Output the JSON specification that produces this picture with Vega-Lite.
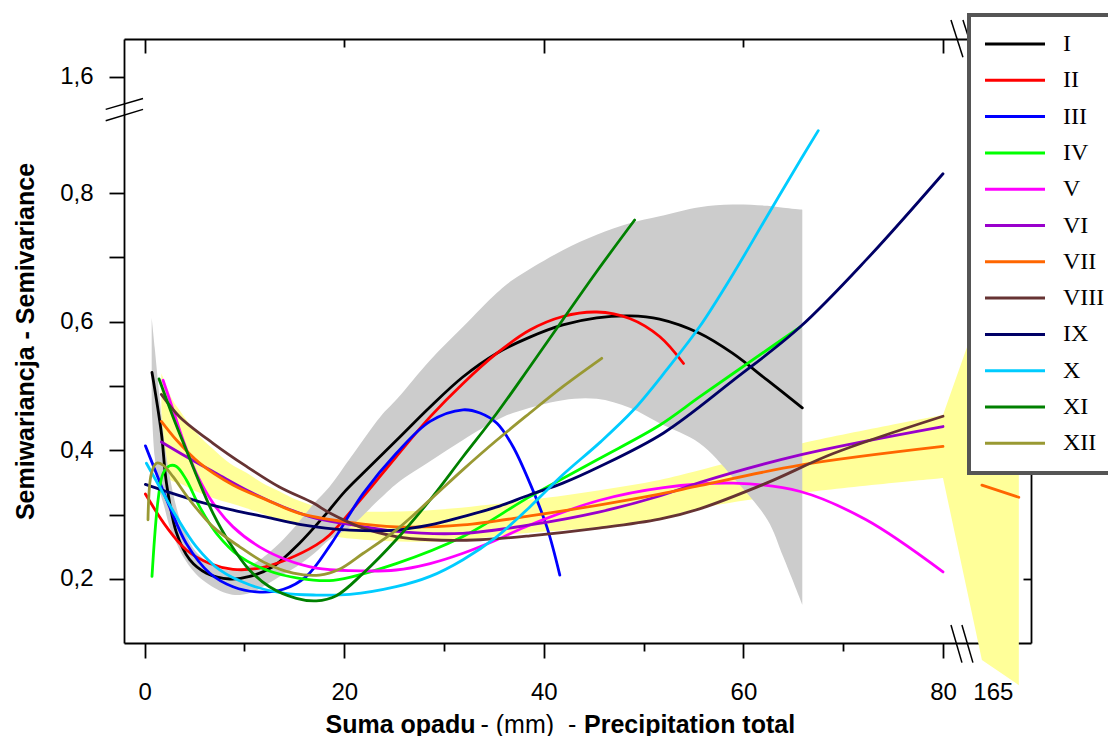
{
"$schema": "https://vega.github.io/schema/vega-lite/v6.json",
"width": 907, "height": 604,
"autosize": {"type": "none"},
"padding": {"left": 124, "top": 39, "right": 77, "bottom": 93},
"background": "white",
"config": {
  "view": {"stroke": null},
  "font": "Liberation Sans",
  "axis": {"grid": false, "domainColor": "#000", "tickColor": "#000", "labelColor": "#000", "titleColor": "#000", "domainWidth": 1.8, "tickWidth": 1.8, "zindex": 1, "labelFont": "Liberation Sans", "titleFont": "Liberation Sans", "labelFontSize": 24, "titleFontSize": 25, "labelOverlap": false, "labelFlush": false, "labelBound": false}
},
"datasets": {
  "yellow": [
    {"x":1.67,"lo":0.364,"hi":0.520},{"x":2.81,"lo":0.352,"hi":0.478},{"x":3.51,"lo":0.349,"hi":0.462},{"x":5.18,"lo":0.336,"hi":0.427},{"x":6.85,"lo":0.326,"hi":0.402},{"x":8.52,"lo":0.318,"hi":0.380},{"x":10.2,"lo":0.310,"hi":0.365},{"x":11.83,"lo":0.301,"hi":0.349},{"x":13.53,"lo":0.292,"hi":0.336},{"x":15.2,"lo":0.283,"hi":0.323},{"x":16.84,"lo":0.274,"hi":0.314},{"x":18.5,"lo":0.268,"hi":0.307},{"x":20.55,"lo":0.263,"hi":0.305},{"x":28.6,"lo":0.258,"hi":0.307},{"x":38.6,"lo":0.272,"hi":0.323},{"x":45.6,"lo":0.281,"hi":0.338},{"x":51.6,"lo":0.294,"hi":0.354},{"x":55.6,"lo":0.310,"hi":0.369},{"x":65.9,"lo":0.334,"hi":0.411},{"x":80,"lo":0.357,"hi":0.455}
  ],
  "yellowbreak": [
    {"x":80,"lo":0.357,"hi":0.455},{"x":83.9,"lo":0.074,"hi":0.626},{"x":87.6,"lo":0.035,"hi":0.789}
  ],
  "gray": [
    {"x":0.7,"lo":0.47,"hi":0.606},{"x":1.0,"lo":0.39,"hi":0.56},{"x":1.5,"lo":0.338,"hi":0.48},{"x":2.0,"lo":0.31,"hi":0.41},{"x":2.5,"lo":0.281,"hi":0.36},{"x":3.2,"lo":0.255,"hi":0.31},{"x":3.84,"lo":0.235,"hi":0.28},{"x":5.0,"lo":0.21,"hi":0.245},{"x":5.84,"lo":0.198,"hi":0.232},{"x":7.0,"lo":0.186,"hi":0.220},{"x":8.19,"lo":0.178,"hi":0.214},{"x":9.52,"lo":0.175,"hi":0.215},{"x":11.0,"lo":0.181,"hi":0.225},{"x":11.83,"lo":0.188,"hi":0.233},{"x":13.53,"lo":0.204,"hi":0.256},{"x":15.2,"lo":0.219,"hi":0.284},{"x":17,"lo":0.240,"hi":0.318},{"x":18.5,"lo":0.261,"hi":0.343},{"x":20.6,"lo":0.281,"hi":0.388},{"x":23.6,"lo":0.325,"hi":0.452},{"x":25.3,"lo":0.349,"hi":0.48},{"x":28.6,"lo":0.383,"hi":0.540},{"x":31.9,"lo":0.416,"hi":0.592},{"x":35.3,"lo":0.447,"hi":0.645},{"x":36.9,"lo":0.458,"hi":0.665},{"x":41.9,"lo":0.478,"hi":0.711},{"x":45.3,"lo":0.480,"hi":0.735},{"x":48.6,"lo":0.466,"hi":0.753},{"x":51.6,"lo":0.442,"hi":0.764},{"x":55.6,"lo":0.411,"hi":0.778},{"x":58.9,"lo":0.359,"hi":0.782},{"x":62.4,"lo":0.292,"hi":0.780},{"x":64.0,"lo":0.234,"hi":0.777},{"x":65.9,"lo":0.160,"hi":0.774}
  ],
  "breaks": [
    {"x":-3.91,"y":0.930,"x2":-0.17,"y2":0.947},{"x":-3.91,"y":0.9124,"x2":-0.17,"y2":0.930},
    {"x":80.8,"y":0.1285,"x2":81.9,"y2":0.070},{"x":81.9,"y":0.1285,"x2":83.0,"y2":0.070},
    {"x":80.8,"y":1.069,"x2":82.0,"y2":1.011},{"x":82.0,"y":1.069,"x2":83.2,"y2":1.011}
  ],
  "curves": [
    {"s":"I","x":0.73,"y":0.521},{"s":"I","x":1.67,"y":0.427},{"s":"I","x":2.18,"y":0.349},{"s":"I","x":3.18,"y":0.272},{"s":"I","x":4.51,"y":0.230},{"s":"I","x":6.19,"y":0.209},{"s":"I","x":8.52,"y":0.200},{"s":"I","x":10.53,"y":0.204},{"s":"I","x":12.83,"y":0.219},{"s":"I","x":15.54,"y":0.256},{"s":"I","x":18.22,"y":0.302},{"s":"I","x":20,"y":0.335},{"s":"I","x":21.85,"y":0.364},{"s":"I","x":25.26,"y":0.416},{"s":"I","x":28.57,"y":0.467},{"s":"I","x":31.88,"y":0.514},{"s":"I","x":35.29,"y":0.551},{"s":"I","x":38.6,"y":0.576},{"s":"I","x":41.9,"y":0.595},{"s":"I","x":45.3,"y":0.606},{"s":"I","x":48.6,"y":0.609},{"s":"I","x":51.6,"y":0.604},{"s":"I","x":55.6,"y":0.582},{"s":"I","x":58.9,"y":0.551},{"s":"I","x":62.4,"y":0.509},{"s":"I","x":65.9,"y":0.466},
    {"s":"II","x":0.07,"y":0.332},{"s":"II","x":2.18,"y":0.281},{"s":"II","x":4.18,"y":0.245},{"s":"II","x":6.52,"y":0.224},{"s":"II","x":8.85,"y":0.215},{"s":"II","x":11.5,"y":0.217},{"s":"II","x":14.2,"y":0.230},{"s":"II","x":17.2,"y":0.253},{"s":"II","x":18.5,"y":0.268},{"s":"II","x":21.9,"y":0.328},{"s":"II","x":25.2,"y":0.390},{"s":"II","x":28.6,"y":0.452},{"s":"II","x":31.9,"y":0.504},{"s":"II","x":35.3,"y":0.551},{"s":"II","x":38.6,"y":0.587},{"s":"II","x":41.9,"y":0.608},{"s":"II","x":45.3,"y":0.615},{"s":"II","x":48.6,"y":0.605},{"s":"II","x":51.6,"y":0.577},{"s":"II","x":54.0,"y":0.535},
    {"s":"III","x":0.07,"y":0.407},{"s":"III","x":1.17,"y":0.364},{"s":"III","x":2.5,"y":0.312},{"s":"III","x":4.18,"y":0.255},{"s":"III","x":6.52,"y":0.209},{"s":"III","x":8.85,"y":0.188},{"s":"III","x":11.2,"y":0.180},{"s":"III","x":13.9,"y":0.184},{"s":"III","x":16.2,"y":0.204},{"s":"III","x":18.7,"y":0.255},{"s":"III","x":21.9,"y":0.333},{"s":"III","x":25.2,"y":0.395},{"s":"III","x":28.6,"y":0.445},{"s":"III","x":31.9,"y":0.463},{"s":"III","x":33.6,"y":0.458},{"s":"III","x":35.3,"y":0.442},{"s":"III","x":36.9,"y":0.406},{"s":"III","x":38.6,"y":0.349},{"s":"III","x":40.3,"y":0.281},{"s":"III","x":41.6,"y":0.206},
    {"s":"IV","x":0.73,"y":0.204},{"s":"IV","x":1.34,"y":0.323},{"s":"IV","x":1.84,"y":0.364},{"s":"IV","x":2.5,"y":0.376},{"s":"IV","x":3.18,"y":0.375},{"s":"IV","x":4.18,"y":0.354},{"s":"IV","x":5.51,"y":0.312},{"s":"IV","x":7.19,"y":0.271},{"s":"IV","x":9.52,"y":0.235},{"s":"IV","x":12.2,"y":0.214},{"s":"IV","x":15.5,"y":0.201},{"s":"IV","x":18.9,"y":0.198},{"s":"IV","x":25.2,"y":0.224},{"s":"IV","x":31.9,"y":0.266},{"s":"IV","x":38.6,"y":0.328},{"s":"IV","x":45.3,"y":0.385},{"s":"IV","x":51.6,"y":0.439},{"s":"IV","x":55.6,"y":0.483},{"s":"IV","x":60.6,"y":0.537},{"s":"IV","x":65.7,"y":0.592},
    {"s":"V","x":1.84,"y":0.509},{"s":"V","x":2.84,"y":0.463},{"s":"V","x":3.84,"y":0.416},{"s":"V","x":5.18,"y":0.364},{"s":"V","x":6.85,"y":0.318},{"s":"V","x":8.85,"y":0.281},{"s":"V","x":11.5,"y":0.250},{"s":"V","x":14.2,"y":0.230},{"s":"V","x":17.2,"y":0.217},{"s":"V","x":20.55,"y":0.213},{"s":"V","x":25.2,"y":0.214},{"s":"V","x":28.6,"y":0.224},{"s":"V","x":31.9,"y":0.240},{"s":"V","x":35.3,"y":0.261},{"s":"V","x":38.6,"y":0.284},{"s":"V","x":45.5,"y":0.322},{"s":"V","x":52,"y":0.342},{"s":"V","x":59,"y":0.349},{"s":"V","x":65.7,"y":0.336},{"s":"V","x":72.3,"y":0.292},{"s":"V","x":80,"y":0.211},
    {"s":"VI","x":1.67,"y":0.413},{"s":"VI","x":4.18,"y":0.390},{"s":"VI","x":7.19,"y":0.364},{"s":"VI","x":10.5,"y":0.336},{"s":"VI","x":13.9,"y":0.312},{"s":"VI","x":17.2,"y":0.294},{"s":"VI","x":20.5,"y":0.285},{"s":"VI","x":25.2,"y":0.274},{"s":"VI","x":31.9,"y":0.271},{"s":"VI","x":38.6,"y":0.284},{"s":"VI","x":45.5,"y":0.304},{"s":"VI","x":51.6,"y":0.329},{"s":"VI","x":55.6,"y":0.350},{"s":"VI","x":65.7,"y":0.393},{"s":"VI","x":80,"y":0.437},
    {"s":"VII","x":1.67,"y":0.445},{"s":"VII","x":3.18,"y":0.416},{"s":"VII","x":5.51,"y":0.380},{"s":"VII","x":8.85,"y":0.346},{"s":"VII","x":12.2,"y":0.323},{"s":"VII","x":15.5,"y":0.302},{"s":"VII","x":20.55,"y":0.288},{"s":"VII","x":25.2,"y":0.281},{"s":"VII","x":31.9,"y":0.284},{"s":"VII","x":38.6,"y":0.298},{"s":"VII","x":45.5,"y":0.315},{"s":"VII","x":51.6,"y":0.332},{"s":"VII","x":55.6,"y":0.345},{"s":"VII","x":65.7,"y":0.377},{"s":"VII","x":80,"y":0.406},
    {"s":"VII","seg":"b","x":83.9,"y":0.346},{"s":"VII","seg":"b","x":87.6,"y":0.327},
    {"s":"VIII","x":1.67,"y":0.487},{"s":"VIII","x":3.51,"y":0.452},{"s":"VIII","x":6.85,"y":0.411},{"s":"VIII","x":10.2,"y":0.375},{"s":"VIII","x":13.5,"y":0.343},{"s":"VIII","x":16.9,"y":0.318},{"s":"VIII","x":18.5,"y":0.303},{"s":"VIII","x":21.9,"y":0.279},{"s":"VIII","x":25.2,"y":0.266},{"s":"VIII","x":28.6,"y":0.261},{"s":"VIII","x":33.6,"y":0.261},{"s":"VIII","x":38.6,"y":0.267},{"s":"VIII","x":45.5,"y":0.279},{"s":"VIII","x":51.6,"y":0.293},{"s":"VIII","x":55.6,"y":0.309},{"s":"VIII","x":62.3,"y":0.349},{"s":"VIII","x":69,"y":0.395},{"s":"VIII","x":80,"y":0.453},
    {"s":"IX","x":0.07,"y":0.347},{"s":"IX","x":2.18,"y":0.336},{"s":"IX","x":5.51,"y":0.320},{"s":"IX","x":8.85,"y":0.307},{"s":"IX","x":12.2,"y":0.296},{"s":"IX","x":15.5,"y":0.285},{"s":"IX","x":20.55,"y":0.276},{"s":"IX","x":25.2,"y":0.276},{"s":"IX","x":28.6,"y":0.284},{"s":"IX","x":31.9,"y":0.297},{"s":"IX","x":35.3,"y":0.312},{"s":"IX","x":38.6,"y":0.331},{"s":"IX","x":41.9,"y":0.349},{"s":"IX","x":45.5,"y":0.374},{"s":"IX","x":52,"y":0.427},{"s":"IX","x":59,"y":0.509},{"s":"IX","x":65.7,"y":0.592},{"s":"IX","x":72.3,"y":0.696},{"s":"IX","x":80,"y":0.830},
    {"s":"X","x":0.17,"y":0.380},{"s":"X","x":1.5,"y":0.343},{"s":"X","x":3.18,"y":0.297},{"s":"X","x":5.18,"y":0.250},{"s":"X","x":7.52,"y":0.214},{"s":"X","x":10.5,"y":0.191},{"s":"X","x":13.9,"y":0.178},{"s":"X","x":17.2,"y":0.175},{"s":"X","x":20.55,"y":0.176},{"s":"X","x":25.2,"y":0.188},{"s":"X","x":28.6,"y":0.204},{"s":"X","x":31.9,"y":0.230},{"s":"X","x":35.3,"y":0.266},{"s":"X","x":38.6,"y":0.312},{"s":"X","x":41.9,"y":0.362},{"s":"X","x":45.6,"y":0.412},{"s":"X","x":49,"y":0.463},{"s":"X","x":52.3,"y":0.525},{"s":"X","x":55.6,"y":0.592},{"s":"X","x":59,"y":0.675},{"s":"X","x":62.3,"y":0.762},{"s":"X","x":65.7,"y":0.851},{"s":"X","x":67.5,"y":0.897},
    {"s":"XI","x":1.44,"y":0.511},{"s":"XI","x":2.84,"y":0.452},{"s":"XI","x":4.18,"y":0.400},{"s":"XI","x":5.51,"y":0.349},{"s":"XI","x":6.85,"y":0.302},{"s":"XI","x":8.52,"y":0.256},{"s":"XI","x":10.5,"y":0.214},{"s":"XI","x":12.5,"y":0.188},{"s":"XI","x":15.2,"y":0.170},{"s":"XI","x":17.2,"y":0.166},{"s":"XI","x":19.2,"y":0.174},{"s":"XI","x":21.9,"y":0.209},{"s":"XI","x":25.2,"y":0.261},{"s":"XI","x":28.6,"y":0.323},{"s":"XI","x":31.9,"y":0.390},{"s":"XI","x":35.3,"y":0.458},{"s":"XI","x":38.6,"y":0.530},{"s":"XI","x":41.9,"y":0.603},{"s":"XI","x":45.3,"y":0.678},{"s":"XI","x":49.1,"y":0.758},
    {"s":"XII","x":0.33,"y":0.292},{"s":"XII","x":0.67,"y":0.364},{"s":"XII","x":1.17,"y":0.380},{"s":"XII","x":1.84,"y":0.377},{"s":"XII","x":2.84,"y":0.359},{"s":"XII","x":4.51,"y":0.323},{"s":"XII","x":6.85,"y":0.281},{"s":"XII","x":9.52,"y":0.250},{"s":"XII","x":12.2,"y":0.224},{"s":"XII","x":14.9,"y":0.209},{"s":"XII","x":17.5,"y":0.206},{"s":"XII","x":19.5,"y":0.215},{"s":"XII","x":21.9,"y":0.240},{"s":"XII","x":25.2,"y":0.276},{"s":"XII","x":28.6,"y":0.323},{"s":"XII","x":31.9,"y":0.370},{"s":"XII","x":35.3,"y":0.416},{"s":"XII","x":38.6,"y":0.458},{"s":"XII","x":41.9,"y":0.499},{"s":"XII","x":45.8,"y":0.543}
  ]
},
"encoding": {
  "x": {"field": "x", "type": "quantitative", "scale": {"domain": [-2.075, 88.82], "nice": false, "zero": false}, "axis": null},
  "y": {"field": "y", "type": "quantitative", "scale": {"domain": [0.1005, 1.0394], "nice": false, "zero": false}, "axis": null}
},
"layer": [
  {
    "data": {"name": "yellow"},
    "mark": {"type": "area", "color": "#FFFF99", "interpolate": "catmull-rom"},
    "encoding": {
      "x": {"field": "x", "type": "quantitative", "scale": {"domain": [-2.075, 88.82], "nice": false, "zero": false},
        "axis": {"orient": "bottom", "values": [0, 20, 40, 60, 80, 85], "tickSize": 15, "labelPadding": 22, "labelExpr": "datum.value == 85 ? '165' : datum.label", "title": "Suma opadu", "titleFontWeight": "bold", "titleX": 201, "titleY": 89, "titleAlign": "left", "titleBaseline": "alphabetic", "titleAnchor": "start"}},
      "y": {"field": "lo", "type": "quantitative", "scale": {"domain": [0.1005, 1.0394], "nice": false, "zero": false},
        "axis": {"orient": "left", "values": [0.1, 0.2, 0.3, 0.4, 0.5, 0.6, 0.7, 0.8, 0.981], "tickSize": 15, "labelPadding": 16, "labelExpr": "datum.value > 0.9 ? '1,6' : (round(datum.value*10) % 2 == 0 && datum.value > 0.15 ? replace(format(datum.value, '.1f'), '.', ',') : '')", "title": "Semiwariancja - Semivariance", "titleFontWeight": "bold", "titleX": -91, "titleY": 302, "titleAngle": 270, "titleAlign": "center", "titleBaseline": "alphabetic"}},
      "y2": {"field": "hi"}
    }
  },
  {
    "data": {"name": "yellowbreak"},
    "mark": {"type": "area", "color": "#FFFF99", "interpolate": "linear"},
    "encoding": {
      "y": {"field": "lo", "type": "quantitative", "scale": {"domain": [0.1005, 1.0394], "nice": false, "zero": false}, "axis": null},
      "y2": {"field": "hi"}
    }
  },
  {
    "data": {"name": "gray"},
    "mark": {"type": "area", "color": "#CCCCCC", "interpolate": "catmull-rom"},
    "encoding": {
      "x": {"field": "x", "type": "quantitative", "scale": {"domain": [-2.075, 88.82], "nice": false, "zero": false},
        "axis": {"orient": "top", "values": [0, 20, 40, 60, 80], "labels": false, "title": null, "tickSize": {"condition": {"test": "datum.value % 40 == 0", "value": -14}, "value": -8}}},
      "y": {"field": "lo", "type": "quantitative", "scale": {"domain": [0.1005, 1.0394], "nice": false, "zero": false},
        "axis": {"orient": "right", "values": [0.2, 0.4, 0.6, 0.8], "labels": false, "title": null, "tickSize": -8}},
      "y2": {"field": "hi"}
    }
  },
  {
    "data": {"name": "curves"},
    "mark": {"type": "line", "strokeWidth": 2.8, "interpolate": "catmull-rom", "strokeCap": "round", "strokeJoin": "round"},
    "encoding": {
      "x": {"field": "x", "type": "quantitative", "scale": {"domain": [-2.075, 88.82], "nice": false, "zero": false},
        "axis": {"orient": "bottom", "values": [10, 30, 50, 70], "tickSize": 8, "labels": false, "domain": false, "title": "- (mm)\u00a0\u00a0-", "titleFontWeight": "normal", "titleX": 356, "titleY": 89, "titleAlign": "left", "titleBaseline": "alphabetic", "titleAnchor": "start"}},
      "color": {"field": "s", "type": "nominal",
        "scale": {"domain": ["I","II","III","IV","V","VI","VII","VIII","IX","X","XI","XII"],
                  "range": ["#000000","#FF0000","#0000FF","#00FF00","#FF00FF","#9900CC","#FF6600","#663333","#000066","#00CCFF","#008000","#999933"]},
        "legend": {"orient": "none", "legendX": 845, "legendY": -24, "title": null, "symbolType": "M-3,0H3", "symbolSize": 400, "symbolStrokeWidth": 3, "labelFont": "Liberation Serif", "labelFontSize": 24, "labelColor": "#000", "rowPadding": 12.3, "padding": 17, "strokeColor": "#555555", "fillColor": "#ffffff", "labelOffset": 36, "symbolOffset": 17, "zindex": 2, "labelLimit": 300,
          "encoding": {"legend": {"strokeWidth": {"value": 4}}}}},
      "detail": {"field": "seg", "type": "nominal"}
    }
  },
  {
    "data": {"name": "breaks"},
    "mark": {"type": "rule", "color": "#000", "strokeWidth": 1.5},
    "encoding": {
      "x": {"field": "x", "type": "quantitative", "scale": {"domain": [-2.075, 88.82], "nice": false, "zero": false},
        "axis": {"orient": "bottom", "domain": false, "ticks": false, "labels": false, "title": "Precipitation total", "titleFontWeight": "bold", "titleX": 459.5, "titleY": 89, "titleAlign": "left", "titleBaseline": "alphabetic", "titleAnchor": "start"}},
      "x2": {"field": "x2"},
      "y2": {"field": "y2"}
    }
  }
],
"resolve": {"axis": {"x": "independent", "y": "independent"}}
}
